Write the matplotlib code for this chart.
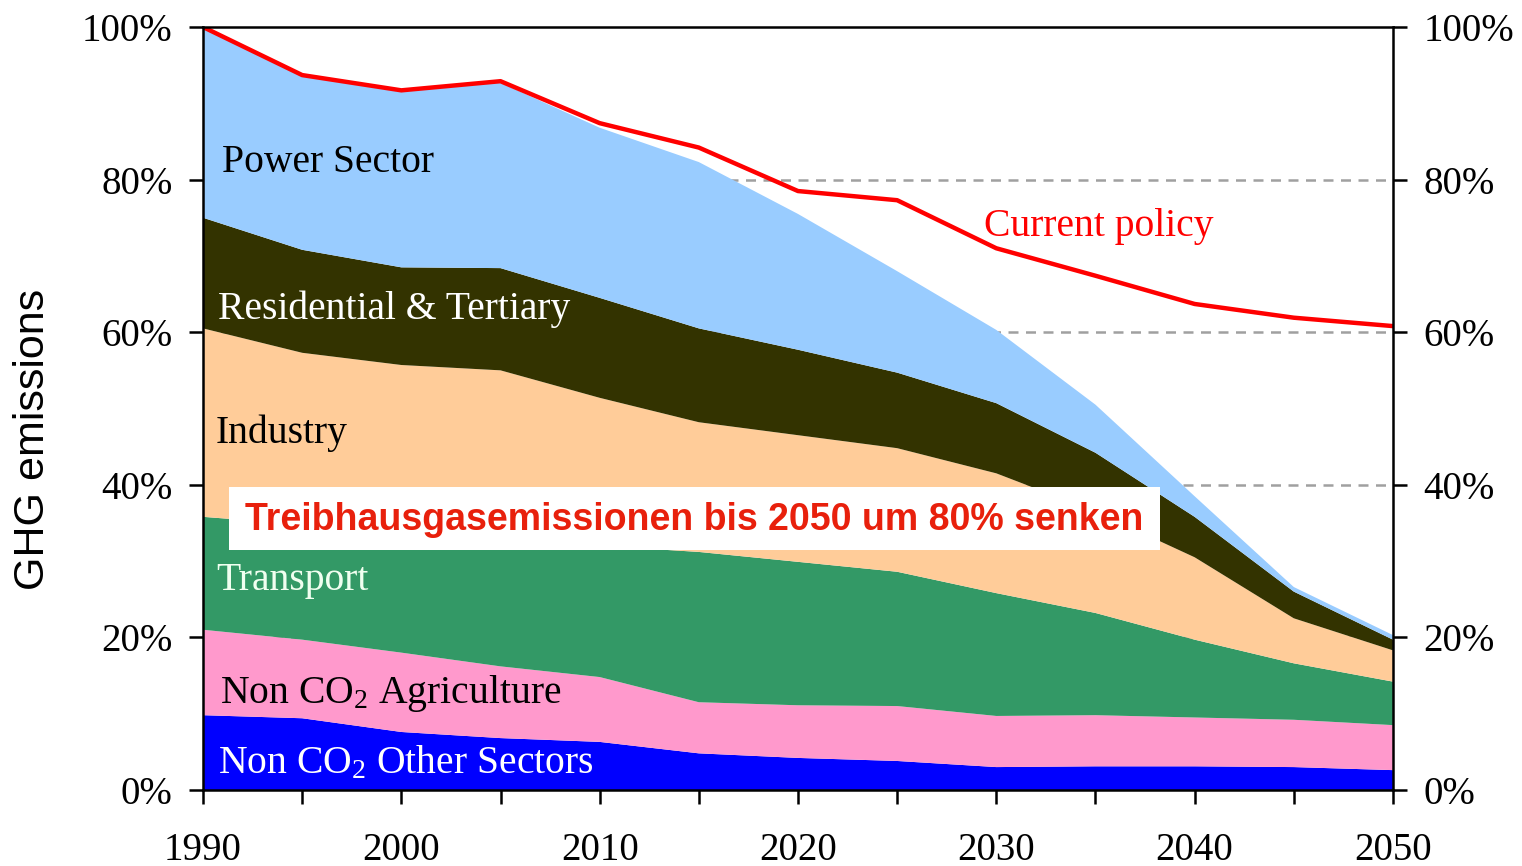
import matplotlib
matplotlib.use("Agg")
import matplotlib.pyplot as plt
from matplotlib.patches import Rectangle
from matplotlib.ticker import MultipleLocator, FuncFormatter

# Jahre und Anteile (in % von 1990) je Sektor, von unten nach oben gestapelt
jahre = [1990, 1995, 2000, 2005, 2010, 2015, 2020, 2025, 2030, 2035, 2040, 2045, 2050]
non_co2_other = [9.8, 9.4, 7.6, 6.8, 6.3, 4.8, 4.2, 3.8, 3.0, 3.1, 3.1, 3.0, 2.6]
non_co2_agri = [11.2, 10.3, 10.4, 9.4, 8.5, 6.7, 6.9, 7.2, 6.7, 6.7, 6.4, 6.2, 5.9]
transport = [14.8, 15.1, 15.8, 16.8, 17.2, 19.7, 18.8, 17.6, 16.1, 13.4, 10.2, 7.4, 5.7]
industry = [24.7, 22.5, 21.9, 22.0, 19.4, 17.0, 16.6, 16.2, 15.7, 13.3, 10.8, 5.9, 4.1]
residential = [14.5, 13.5, 12.8, 13.4, 13.1, 12.3, 11.2, 9.9, 9.2, 7.7, 5.3, 3.5, 1.4]
power = [24.8, 22.7, 23.0, 24.3, 22.3, 21.8, 17.8, 13.3, 9.6, 6.3, 2.7, 0.6, 0.6]
current_policy = [100, 93.7, 91.7, 92.9, 87.4, 84.2, 78.5, 77.3, 71.0, 67.4, 63.7, 61.9, 60.8]

farben = ["#0000FF", "#FF99CC", "#339966", "#FFCC99", "#333300", "#99CCFF"]

serif = "Liberation Serif"
plt.rcParams["mathtext.fontset"] = "custom"
plt.rcParams["mathtext.rm"] = serif
plt.rcParams["mathtext.it"] = serif
plt.rcParams["mathtext.default"] = "rm"

fig = plt.figure(figsize=(15.22, 8.66), dpi=100)
ax = fig.add_axes([0.1334, 0.0878, 0.7818, 0.881])

# gestrichelte Hilfslinien liegen hinter den Flaechen
for y in [20, 40, 60, 80]:
    ax.axhline(y, color="#A0A0A0", linestyle=(0, (4, 3)), linewidth=1.8, zorder=0)

ax.stackplot(jahre, non_co2_other, non_co2_agri, transport, industry, residential, power,
             colors=farben, linewidth=0, zorder=1)
ax.plot(jahre, current_policy, color="#FF0000", linewidth=3.2, zorder=3)

ax.set_xlim(1990, 2050)
ax.set_ylim(0, 100)
ax.xaxis.set_major_locator(MultipleLocator(10))
ax.xaxis.set_minor_locator(MultipleLocator(5))
ax.yaxis.set_major_locator(MultipleLocator(20))
ax.yaxis.set_major_formatter(FuncFormatter(lambda v, p: f"{v:.0f}%"))
ax.tick_params(axis="both", which="both", direction="out", length=10, width=1.8,
               labelsize=28)
ax.tick_params(axis="x", pad=20)
ax.tick_params(axis="y", pad=12, right=True, labelright=True)
for lbl in ax.get_xticklabels() + ax.get_yticklabels():
    lbl.set_fontfamily(serif)
for s in ax.spines.values():
    s.set_linewidth(1.8)
    s.set_zorder(4)

ax.set_ylabel("GHG emissions", fontsize=31, fontfamily="Liberation Sans")
ax.yaxis.set_label_coords(-0.126, 0.459)

# Beschriftungen der Sektoren
gr = 28.5
ax.text(1990.95, 82.2, "Power Sector", fontsize=gr, family=serif, color="black", va="center")
ax.text(1990.75, 63.0, "Residential & Tertiary", fontsize=gr, family=serif, color="white", va="center")
ax.text(1990.65, 46.8, "Industry", fontsize=gr, family=serif, color="black", va="center")
ax.text(1990.65, 27.4, "Transport", fontsize=gr, family=serif, color="#F0FFF0", va="center")
ax.text(1990.85, 12.6, "Non CO$_2$ Agriculture", fontsize=gr, family=serif, color="black", va="center")
ax.text(1990.75, 3.5, "Non CO$_2$ Other Sectors", fontsize=gr, family=serif, color="white", va="center")
ax.text(2029.4, 73.9, "Current policy", fontsize=gr, family=serif, color="#FF0000", va="center")

# weisser Kasten mit Botschaft
ax.add_patch(Rectangle((1991.31, 31.45), 46.94, 8.26, facecolor="white", edgecolor="none", zorder=5))
ax.text(2014.78, 35.4, "Treibhausgasemissionen bis 2050 um 80% senken", fontsize=27,
        family="Liberation Sans", fontweight="bold", color="#E8200C",
        ha="center", va="center", zorder=6)

fig.savefig("out.png", dpi=100)
